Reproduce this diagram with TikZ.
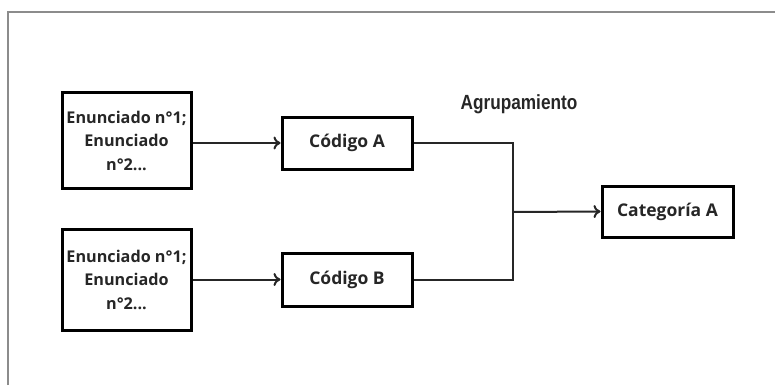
\documentclass[tikz,border=0pt]{standalone}
\usepackage{fontspec}
\setmainfont{Open Sans}
\newfontfamily\grpfont{Liberation Sans}
\usetikzlibrary{arrows.meta}
\begin{document}
\begin{tikzpicture}[x=1pt,y=-1pt,
  box/.style={draw=black,line width=3pt,fill=white,inner sep=0pt,align=center,
    font=\fontsize{16.2}{23.5}\selectfont\bfseries,text=black!85},
  lbl/.style={font=\fontsize{17.5}{20}\selectfont\bfseries},
  conn/.style={line width=2pt,draw=black!85},
  arr/.style={conn,-{To[length=7pt,width=13pt,line width=2pt]}}]
\useasboundingbox (0,0) rectangle (775,385);
\draw[draw=black!45,line width=1.4pt] (8,385) -- (8,12) -- (775,12);
\node[box,minimum width=129pt,minimum height=95pt] (e1) at (126.5,140.5) {Enunciado n°1;\\Enunciado\\n°2...};
\node[box,minimum width=129pt,minimum height=101pt] (e2) at (126.5,279.5) {Enunciado n°1;\\Enunciado\\n°2...};
\node[box,lbl,minimum width=130pt,minimum height=52pt] (ca) at (347,143) {Código A};
\node[box,lbl,minimum width=130pt,minimum height=53pt] (cb) at (347,279.5) {Código B};
\node[box,lbl,minimum width=131pt,minimum height=51pt] (cat) at (667.5,211.5) {Categoría A};
\node[text=black!85,inner sep=0pt] (grp) at (519,104) {\scalebox{0.84}[1]{\grpfont\bfseries\fontsize{20.5}{22}\selectfont Agrupamiento}};
\coordinate (j) at (513,212);
\draw[arr] (e1.east |- ca.west) -- (ca.west);
\draw[arr] (e2.east |- cb.west) -- (cb.west);
\draw[conn] (ca.east) -| (j) |- (cb.east);
\draw[arr] (j) -- (cat.west);
\end{tikzpicture}
\end{document}
